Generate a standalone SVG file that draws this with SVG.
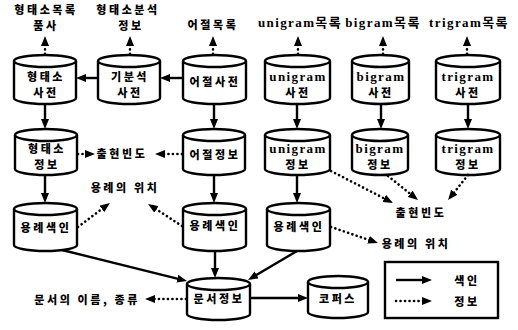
<svg xmlns="http://www.w3.org/2000/svg" width="518" height="330" viewBox="0 0 518 330">
  <style>
    .cyl { fill: #fff; stroke: #000; stroke-width: 2.4; stroke-linejoin: round; }
    .rim { fill: none; stroke: #000; stroke-width: 2.4; }
    .ko { font-family: "Noto Sans CJK KR", "Noto Sans", sans-serif; font-weight: 900; font-size: 11px; letter-spacing: 2.6px; fill: #000; }
    .lat { font-family: "Liberation Serif", "Noto Sans CJK KR", serif; font-weight: 700; font-size: 13px; letter-spacing: 1.4px; fill: #000; }
    .mid { text-anchor: middle; }
    .solid { fill: none; stroke: #000; stroke-width: 2.4; marker-end: url(#head); }
    .dot { fill: none; stroke: #000; stroke-width: 2.6; stroke-linecap: round; stroke-dasharray: 0.1 4.4; marker-end: url(#head); }
    .box { fill: #fff; stroke: #000; stroke-width: 2.4; }
  </style>
  <defs>
    <marker id="head" viewBox="0 0 10 8" refX="4" refY="4" markerWidth="10" markerHeight="8" markerUnits="userSpaceOnUse" orient="auto">
      <path d="M0,0 L10,4 L0,8 z" fill="#000"/>
    </marker>
  </defs>

  <rect width="518" height="330" fill="#fff"/>

  <!-- output labels along the top -->
  <g id="labels-top">
    <text class="ko mid" x="46" y="14">형태소목록</text>
    <text class="ko mid" x="46" y="30">품사</text>
    <text class="ko mid" x="128" y="14">형태소분석</text>
    <text class="ko mid" x="131" y="30">정보</text>
    <text class="ko mid" x="213" y="29">어절목록</text>
    <text class="lat mid" x="300" y="27">unigram목록</text>
    <text class="lat mid" x="383" y="27">bigram목록</text>
    <text class="lat mid" x="469" y="27">trigram목록</text>
  </g>

  <!-- row 1: dictionaries -->
  <g id="morph-dict">
    <path class="cyl" d="M14,61 a31,6 0 0 1 62,0 v37 a31,6 0 0 1 -62,0 z"/>
    <path class="rim" d="M14,61 a31,6 0 0 0 62,0"/>
    <text class="ko mid" x="46" y="81">형태소</text>
    <text class="ko mid" x="46" y="97">사전</text>
  </g>
  <g id="preanalyzed-dict">
    <path class="cyl" d="M98,61 a31,6 0 0 1 62,0 v37 a31,6 0 0 1 -62,0 z"/>
    <path class="rim" d="M98,61 a31,6 0 0 0 62,0"/>
    <text class="ko mid" x="130" y="81">기분석</text>
    <text class="ko mid" x="130" y="97">사전</text>
  </g>
  <g id="eojeol-dict">
    <path class="cyl" d="M183,61 a31.5,6 0 0 1 63,0 v37 a31.5,6 0 0 1 -63,0 z"/>
    <path class="rim" d="M183,61 a31.5,6 0 0 0 63,0"/>
    <text class="ko mid" x="215" y="86">어절사전</text>
  </g>
  <g id="unigram-dict">
    <path class="cyl" d="M265,61 a32.5,6 0 0 1 65,0 v37 a32.5,6 0 0 1 -65,0 z"/>
    <path class="rim" d="M265,61 a32.5,6 0 0 0 65,0"/>
    <text class="lat mid" x="298" y="81">unigram</text>
    <text class="ko mid" x="298" y="97">사전</text>
  </g>
  <g id="bigram-dict">
    <path class="cyl" d="M352,61 a28.5,6 0 0 1 57,0 v37 a28.5,6 0 0 1 -57,0 z"/>
    <path class="rim" d="M352,61 a28.5,6 0 0 0 57,0"/>
    <text class="lat mid" x="381" y="81">bigram</text>
    <text class="ko mid" x="381" y="97">사전</text>
  </g>
  <g id="trigram-dict">
    <path class="cyl" d="M436,61 a32,6 0 0 1 64,0 v37 a32,6 0 0 1 -64,0 z"/>
    <path class="rim" d="M436,61 a32,6 0 0 0 64,0"/>
    <text class="lat mid" x="468" y="81">trigram</text>
    <text class="ko mid" x="468" y="97">사전</text>
  </g>

  <!-- row 2: information stores -->
  <g id="morph-info">
    <path class="cyl" d="M15,135 a31,6 0 0 1 62,0 v34 a31,6 0 0 1 -62,0 z"/>
    <path class="rim" d="M15,135 a31,6 0 0 0 62,0"/>
    <text class="ko mid" x="47" y="153">형태소</text>
    <text class="ko mid" x="47" y="169">정보</text>
  </g>
  <g id="eojeol-info">
    <path class="cyl" d="M183,135 a31,6 0 0 1 62,0 v34 a31,6 0 0 1 -62,0 z"/>
    <path class="rim" d="M183,135 a31,6 0 0 0 62,0"/>
    <text class="ko mid" x="215" y="159">어절정보</text>
  </g>
  <g id="unigram-info">
    <path class="cyl" d="M265,135 a32.5,6 0 0 1 65,0 v34 a32.5,6 0 0 1 -65,0 z"/>
    <path class="rim" d="M265,135 a32.5,6 0 0 0 65,0"/>
    <text class="lat mid" x="298" y="153">unigram</text>
    <text class="ko mid" x="298" y="169">정보</text>
  </g>
  <g id="bigram-info">
    <path class="cyl" d="M352,135 a28,6 0 0 1 56,0 v34 a28,6 0 0 1 -56,0 z"/>
    <path class="rim" d="M352,135 a28,6 0 0 0 56,0"/>
    <text class="lat mid" x="380" y="153">bigram</text>
    <text class="ko mid" x="380" y="169">정보</text>
  </g>
  <g id="trigram-info">
    <path class="cyl" d="M436,135 a32,6 0 0 1 64,0 v34 a32,6 0 0 1 -64,0 z"/>
    <path class="rim" d="M436,135 a32,6 0 0 0 64,0"/>
    <text class="lat mid" x="468" y="153">trigram</text>
    <text class="ko mid" x="468" y="169">정보</text>
  </g>

  <!-- row 3: example indexes -->
  <g id="example-index-1">
    <path class="cyl" d="M14,209 a31.5,6 0 0 1 63,0 v36 a31.5,6 0 0 1 -63,0 z"/>
    <path class="rim" d="M14,209 a31.5,6 0 0 0 63,0"/>
    <text class="ko mid" x="46" y="232">용례색인</text>
  </g>
  <g id="example-index-2">
    <path class="cyl" d="M183,209 a31.5,6 0 0 1 63,0 v36 a31.5,6 0 0 1 -63,0 z"/>
    <path class="rim" d="M183,209 a31.5,6 0 0 0 63,0"/>
    <text class="ko mid" x="215" y="230">용례색인</text>
  </g>
  <g id="example-index-3">
    <path class="cyl" d="M267,209 a31.5,6 0 0 1 63,0 v36 a31.5,6 0 0 1 -63,0 z"/>
    <path class="rim" d="M267,209 a31.5,6 0 0 0 63,0"/>
    <text class="ko mid" x="299" y="231">용례색인</text>
  </g>

  <!-- row 4: document info and corpus -->
  <g id="doc-info">
    <path class="cyl" d="M187,284 a31.5,6 0 0 1 63,0 v30 a31.5,6 0 0 1 -63,0 z"/>
    <path class="rim" d="M187,284 a31.5,6 0 0 0 63,0"/>
    <text class="ko mid" x="219" y="303">문서정보</text>
  </g>
  <g id="corpus">
    <path class="cyl" d="M308,282 a30,6 0 0 1 60,0 v30 a30,6 0 0 1 -60,0 z"/>
    <path class="rim" d="M308,282 a30,6 0 0 0 60,0"/>
    <text class="ko mid" x="338" y="303">코퍼스</text>
  </g>

  <!-- free-standing information labels -->
  <g id="labels-info">
    <text class="ko mid" x="122" y="158">출현빈도</text>
    <text class="ko mid" x="125" y="192">용례의 위치</text>
    <text class="ko mid" x="421" y="217">출현빈도</text>
    <text class="ko mid" x="416" y="248">용례의 위치</text>
    <text class="ko" x="140" y="304" text-anchor="end">문서의 이름, 종류</text>
  </g>

  <!-- legend -->
  <g id="legend">
    <rect class="box" x="385" y="262" width="113" height="56"/>
    <line class="solid" x1="396" y1="280" x2="426" y2="280"/>
    <text class="ko mid" x="467" y="285">색인</text>
    <line class="dot" x1="396" y1="301" x2="426" y2="301"/>
    <text class="ko mid" x="467" y="306">정보</text>
  </g>

  <!-- connectors -->
  <g id="connectors">
    <!-- index flows (solid) -->
    <line class="solid" x1="183" y1="78" x2="166" y2="78"/>
    <line class="solid" x1="98" y1="78" x2="82" y2="78"/>
    <line class="solid" x1="45" y1="104" x2="45" y2="123"/>
    <line class="solid" x1="45" y1="175" x2="45" y2="197"/>
    <line class="solid" x1="214" y1="104" x2="214" y2="123"/>
    <line class="solid" x1="214" y1="175" x2="214" y2="197"/>
    <line class="solid" x1="215" y1="251" x2="215" y2="272"/>
    <line class="solid" x1="297" y1="104" x2="297" y2="123"/>
    <line class="solid" x1="297" y1="175" x2="297" y2="197"/>
    <line class="solid" x1="381" y1="104" x2="381" y2="123"/>
    <line class="solid" x1="468" y1="104" x2="468" y2="123"/>
    <line class="solid" x1="62" y1="250" x2="181.2" y2="279.6"/>
    <line class="solid" x1="297" y1="251" x2="253.2" y2="276.9"/>
    <line class="solid" x1="250" y1="298" x2="302" y2="298"/>

    <!-- information flows (dotted) -->
    <line class="dot" x1="45" y1="54" x2="45" y2="42"/>
    <line class="dot" x1="130" y1="54" x2="130" y2="42"/>
    <line class="dot" x1="213" y1="54" x2="213" y2="42"/>
    <line class="dot" x1="298" y1="54" x2="298" y2="42"/>
    <line class="dot" x1="383" y1="54" x2="383" y2="42"/>
    <line class="dot" x1="467" y1="54" x2="467" y2="42"/>
    <line class="dot" x1="78" y1="154" x2="89" y2="154"/>
    <line class="dot" x1="182" y1="154" x2="161" y2="154"/>
    <line class="dot" x1="78" y1="227" x2="105.1" y2="206.5"/>
    <line class="dot" x1="182" y1="226" x2="153.1" y2="207.2"/>
    <line class="dot" x1="331" y1="171" x2="387.7" y2="200.2"/>
    <line class="dot" x1="388" y1="176" x2="413.3" y2="196.3"/>
    <line class="dot" x1="468" y1="175" x2="451.8" y2="195.3"/>
    <line class="dot" x1="331" y1="227" x2="372.3" y2="241.1"/>
    <line class="dot" x1="186" y1="299" x2="151" y2="299"/>
  </g>
</svg>
